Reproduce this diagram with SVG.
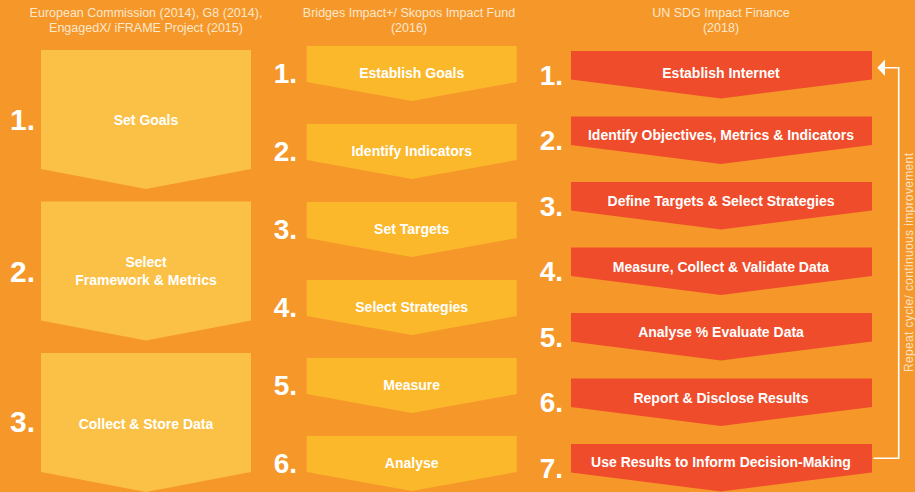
<svg xmlns="http://www.w3.org/2000/svg" xmlns:xlink="http://www.w3.org/1999/xlink" width="915" height="492" viewBox="0 0 915 492">
  <defs>
    <style>
      .hdr { font-family: "Liberation Sans", Arial, sans-serif; font-size: 12.5px; fill: #FCE8CC; text-anchor: middle; }
      .lbl { font-family: "Liberation Sans", Arial, sans-serif; font-weight: bold; font-size: 14px; fill: #FFFFFF; text-anchor: middle; }
      .lblR { font-family: "Liberation Sans", Arial, sans-serif; font-weight: bold; font-size: 14px; fill: #FFFFFF; text-anchor: middle; }
      .num { font-family: "Liberation Sans", Arial, sans-serif; font-weight: bold; font-size: 28px; fill: #FFFFFF; text-anchor: end; }
      .numL { font-family: "Liberation Sans", Arial, sans-serif; font-weight: bold; font-size: 30px; fill: #FFFFFF; text-anchor: end; }
      .cycle { font-family: "Liberation Sans", Arial, sans-serif; font-size: 12px; fill: #FBE2C0; text-anchor: middle; }
      .fillL { fill: #FBC146; }
      .fillM { fill: #FCB82B; }
      .fillR { fill: #EF4C2B; }
      .loop { fill: none; stroke: #FFFFFF; stroke-width: 1.6; }
    </style>
    <!-- chevron-bottomed boxes, one shape per column -->
    <path id="chevL" d="M0,0 H210 V119 L105,139 L0,119 Z"/>
    <path id="chevM" d="M0,0 H210 V36 L105,55 L0,36 Z"/>
    <path id="chevR" d="M0,0 H301 V28.5 L150,47.5 L0,28.5 Z"/>
  </defs>

  <rect x="0" y="0" width="915" height="492" fill="#F6972A"/>

  <!-- column headings -->
  <g id="headers">
    <text class="hdr" x="146" y="17">European Commission (2014), G8 (2014),</text>
    <text class="hdr" x="146" y="32">EngagedX/ iFRAME Project (2015)</text>
    <text class="hdr" x="409" y="17">Bridges Impact+/ Skopos Impact Fund</text>
    <text class="hdr" x="409" y="32">(2016)</text>
    <text class="hdr" x="721" y="17">UN SDG Impact Finance</text>
    <text class="hdr" x="721" y="32">(2018)</text>
  </g>

  <!-- left column -->
  <g id="left-1">
    <use xlink:href="#chevL" class="fillL" x="41" y="50"/>
    <text class="numL" x="35" y="130">1.</text>
    <text class="lbl" x="146" y="125">Set Goals</text>
  </g>
  <g id="left-2">
    <use xlink:href="#chevL" class="fillL" x="41" y="201.5"/>
    <text class="numL" x="35" y="281.5">2.</text>
    <text class="lbl" x="146" y="266.5">Select</text>
    <text class="lbl" x="146" y="285">Framework &amp; Metrics</text>
  </g>
  <g id="left-3">
    <use xlink:href="#chevL" class="fillL" x="41" y="353"/>
    <text class="numL" x="35" y="432">3.</text>
    <text class="lbl" x="146" y="428.5">Collect &amp; Store Data</text>
  </g>

  <!-- middle column -->
  <g id="mid-1">
    <use xlink:href="#chevM" class="fillM" x="306.7" y="46"/>
    <text class="num" x="297" y="82.5">1.</text>
    <text class="lbl" x="411.7" y="78.3">Establish Goals</text>
  </g>
  <g id="mid-2">
    <use xlink:href="#chevM" class="fillM" x="306.7" y="124"/>
    <text class="num" x="297" y="160.5">2.</text>
    <text class="lbl" x="411.7" y="156.3">Identify Indicators</text>
  </g>
  <g id="mid-3">
    <use xlink:href="#chevM" class="fillM" x="306.7" y="202"/>
    <text class="num" x="297" y="238.5">3.</text>
    <text class="lbl" x="411.7" y="234.3">Set Targets</text>
  </g>
  <g id="mid-4">
    <use xlink:href="#chevM" class="fillM" x="306.7" y="280"/>
    <text class="num" x="297" y="316.5">4.</text>
    <text class="lbl" x="411.7" y="312.3">Select Strategies</text>
  </g>
  <g id="mid-5">
    <use xlink:href="#chevM" class="fillM" x="306.7" y="358"/>
    <text class="num" x="297" y="394.5">5.</text>
    <text class="lbl" x="411.7" y="390.3">Measure</text>
  </g>
  <g id="mid-6">
    <use xlink:href="#chevM" class="fillM" x="306.7" y="436"/>
    <text class="num" x="297" y="472.5">6.</text>
    <text class="lbl" x="411.7" y="468.3">Analyse</text>
  </g>

  <!-- right column -->
  <g id="right-1">
    <use xlink:href="#chevR" class="fillR" x="571" y="51"/>
    <text class="num" x="563" y="84.5">1.</text>
    <text class="lblR" x="721" y="77.5">Establish Internet</text>
  </g>
  <g id="right-2">
    <use xlink:href="#chevR" class="fillR" x="571" y="116.5"/>
    <text class="num" x="563" y="150">2.</text>
    <text class="lblR" x="721" y="139.5">Identify Objectives, Metrics &amp; Indicators</text>
  </g>
  <g id="right-3">
    <use xlink:href="#chevR" class="fillR" x="571" y="182"/>
    <text class="num" x="563" y="215.5">3.</text>
    <text class="lblR" x="721" y="205.5">Define Targets &amp; Select Strategies</text>
  </g>
  <g id="right-4">
    <use xlink:href="#chevR" class="fillR" x="571" y="247.5"/>
    <text class="num" x="563" y="281">4.</text>
    <text class="lblR" x="721" y="271.5">Measure, Collect &amp; Validate Data</text>
  </g>
  <g id="right-5">
    <use xlink:href="#chevR" class="fillR" x="571" y="313"/>
    <text class="num" x="563" y="346.5">5.</text>
    <text class="lblR" x="721" y="337">Analyse % Evaluate Data</text>
  </g>
  <g id="right-6">
    <use xlink:href="#chevR" class="fillR" x="571" y="378.5"/>
    <text class="num" x="563" y="412">6.</text>
    <text class="lblR" x="721" y="402.8">Report &amp; Disclose Results</text>
  </g>
  <g id="right-7">
    <use xlink:href="#chevR" class="fillR" x="571" y="444"/>
    <text class="num" x="563" y="477.5">7.</text>
    <text class="lblR" x="721" y="467">Use Results to Inform Decision-Making</text>
  </g>

  <!-- feedback loop from step 7 back to step 1 -->
  <g id="connectors">
    <polyline class="loop" points="873.5,458.3 898.7,458.3 898.7,67.7 884,67.7"/>
    <polygon points="877.3,67.7 885,59.5 885,76" fill="#FFFFFF"/>
    <text class="cycle" transform="translate(913,262.5) rotate(-90)" textLength="219" lengthAdjust="spacing">Repeat cycle/ continuous improvement</text>
  </g>
</svg>
